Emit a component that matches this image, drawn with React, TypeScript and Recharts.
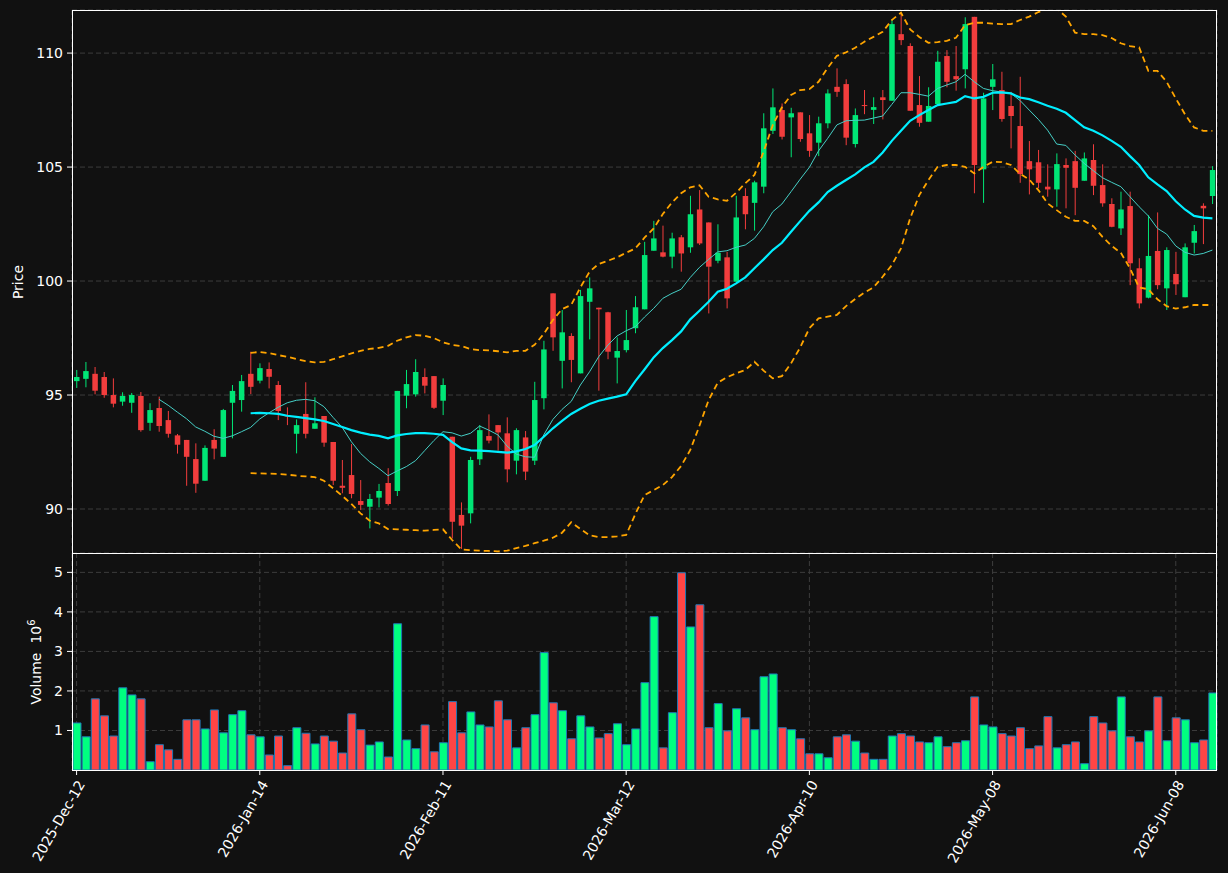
import React from 'react';
import { ComposedChart, Bar, Line, XAxis, YAxis, CartesianGrid, Cell } from 'recharts';

// daily OHLC (prices), volume in millions
const opens = [95.61, 95.71, 95.93, 95.79, 95.00, 94.71, 94.66, 94.96, 93.78, 94.43, 93.90, 93.23, 93.03, 92.19, 91.24, 93.03, 92.29, 94.66, 94.78, 95.93,
  95.63, 96.14, 95.44, 94.10, 93.30, 94.17, 93.52, 94.08, 92.94, 91.02, 91.49, 90.35, 90.10, 90.50, 91.14, 90.79, 94.97, 95.03, 95.79, 95.83,
  94.75, 93.17, 89.74, 89.81, 92.18, 93.20, 93.68, 93.32, 92.12, 93.14, 92.12, 94.86, 99.46, 96.50, 97.59, 95.95, 99.09, 98.83, 98.63, 96.64,
  96.97, 97.93, 98.76, 101.33, 101.26, 101.07, 101.92, 101.48, 103.14, 102.57, 100.89, 101.04, 99.97, 103.73, 103.43, 104.14, 106.59, 107.50, 107.18, 107.40,
  106.48, 106.07, 106.92, 108.52, 108.64, 106.01, 107.72, 107.51, 108.06, 107.91, 110.83, 110.31, 107.72, 106.99, 107.76, 109.87, 108.99, 109.29, 111.59, 104.90,
  108.52, 108.38, 107.68, 106.80, 105.26, 105.21, 104.14, 104.02, 105.09, 105.26, 104.40, 105.31, 104.21, 103.38, 102.31, 103.29, 100.56, 99.27, 101.32, 99.68,
  100.31, 99.29, 101.68, 103.30, 103.73];
const highs = [96.10, 96.45, 96.23, 96.01, 95.73, 95.12, 95.09, 95.13, 94.64, 94.93, 94.30, 93.29, 93.03, 92.88, 92.79, 93.50, 94.39, 95.44, 95.88, 96.90,
  96.39, 96.43, 95.61, 94.46, 93.93, 95.56, 94.90, 94.08, 92.94, 92.15, 92.85, 91.27, 90.66, 91.10, 91.79, 95.18, 96.10, 96.57, 96.17, 95.83,
  95.73, 93.17, 90.29, 92.29, 93.68, 94.15, 93.68, 94.02, 93.54, 93.42, 95.58, 97.38, 99.46, 98.73, 97.71, 99.61, 100.16, 98.83, 98.65, 97.53,
  98.73, 99.34, 101.72, 102.64, 102.43, 102.12, 102.02, 103.74, 103.99, 102.57, 102.49, 101.28, 103.74, 104.07, 104.40, 107.36, 108.45, 107.79, 107.60, 107.40,
  107.28, 107.21, 108.41, 109.33, 108.85, 107.57, 108.38, 108.06, 108.38, 111.48, 111.74, 110.43, 108.99, 108.50, 110.10, 110.13, 110.31, 111.57, 111.59, 108.26,
  109.52, 109.18, 108.30, 108.96, 106.14, 105.75, 105.12, 105.60, 105.38, 105.71, 105.64, 106.00, 105.12, 103.63, 103.92, 103.92, 101.00, 102.89, 103.01, 101.48,
  101.28, 101.65, 102.46, 103.41, 105.04];
const lows = [95.31, 95.34, 95.03, 94.88, 94.46, 94.53, 94.22, 93.39, 93.43, 93.39, 93.13, 92.43, 91.02, 90.71, 91.24, 92.18, 92.29, 93.10, 94.27, 95.04,
  95.51, 95.29, 93.90, 93.68, 92.44, 93.10, 93.52, 92.73, 91.05, 90.69, 90.47, 89.96, 89.15, 90.07, 90.15, 90.57, 94.42, 94.93, 95.07, 94.39,
  94.12, 88.71, 88.25, 89.37, 91.93, 92.88, 92.56, 91.17, 91.52, 91.27, 91.93, 94.37, 96.94, 95.29, 95.56, 95.95, 97.44, 95.19, 96.57, 95.51,
  96.87, 97.71, 98.76, 101.33, 101.04, 100.56, 100.41, 101.24, 101.58, 98.58, 100.78, 98.80, 99.97, 102.27, 102.21, 103.85, 106.45, 106.21, 105.43, 106.11,
  105.45, 105.48, 106.70, 108.08, 105.96, 105.86, 107.32, 106.89, 107.09, 107.91, 110.35, 107.47, 106.77, 106.99, 107.76, 108.50, 108.35, 108.45, 103.85, 103.43,
  107.50, 106.99, 105.82, 104.31, 103.80, 104.07, 103.70, 103.26, 103.19, 102.89, 104.40, 103.77, 103.26, 102.36, 102.02, 99.82, 98.80, 99.24, 99.64, 98.73,
  99.39, 99.29, 101.21, 101.62, 103.38];
const closes = [95.79, 96.05, 95.19, 95.00, 94.62, 94.96, 95.00, 93.46, 94.34, 93.64, 93.30, 92.82, 92.29, 91.11, 92.68, 92.65, 94.34, 95.18, 95.61, 95.36,
  96.18, 95.80, 94.30, 94.06, 93.68, 93.30, 93.76, 92.91, 91.24, 90.93, 90.66, 90.18, 90.44, 90.79, 90.22, 95.18, 95.48, 96.01, 95.41, 94.44,
  95.44, 89.44, 89.27, 92.15, 93.46, 93.00, 93.36, 91.74, 93.46, 91.64, 94.78, 97.00, 97.53, 97.75, 96.54, 99.34, 99.68, 98.76, 96.90, 96.93,
  97.41, 98.85, 101.14, 101.87, 101.07, 101.87, 101.21, 102.93, 101.65, 100.63, 101.24, 99.24, 102.79, 102.93, 104.33, 106.70, 107.62, 106.33, 107.36, 106.23,
  105.71, 106.92, 108.23, 108.30, 106.29, 107.28, 107.69, 107.63, 107.94, 111.27, 110.57, 107.47, 106.94, 107.68, 109.62, 108.74, 108.85, 111.27, 105.09, 108.01,
  108.85, 107.11, 107.24, 104.69, 104.90, 104.31, 104.02, 105.13, 104.97, 104.09, 105.38, 104.18, 103.41, 102.38, 103.14, 100.78, 99.02, 101.10, 99.82, 101.36,
  99.86, 101.48, 102.19, 103.19, 104.87];
const volumes = [1.19, 0.84, 1.80, 1.37, 0.86, 2.08, 1.90, 1.80, 0.21, 0.64, 0.51, 0.27, 1.27, 1.27, 1.04, 1.52, 0.94, 1.40, 1.50, 0.89,
  0.84, 0.38, 0.86, 0.11, 1.07, 0.93, 0.66, 0.86, 0.73, 0.43, 1.42, 1.02, 0.63, 0.71, 0.33, 3.70, 0.76, 0.54, 1.14, 0.46,
  0.69, 1.73, 0.94, 1.47, 1.14, 1.09, 1.75, 1.27, 0.56, 1.07, 1.40, 2.97, 1.70, 1.50, 0.79, 1.37, 1.09, 0.81, 0.92, 1.17,
  0.64, 1.04, 2.21, 3.88, 0.56, 1.45, 4.99, 3.62, 4.18, 1.07, 1.68, 0.99, 1.55, 1.32, 1.02, 2.36, 2.43, 1.07, 1.02, 0.79,
  0.41, 0.41, 0.31, 0.84, 0.89, 0.73, 0.43, 0.27, 0.27, 0.86, 0.92, 0.86, 0.71, 0.69, 0.84, 0.59, 0.69, 0.74, 1.85, 1.14,
  1.09, 0.92, 0.86, 1.07, 0.54, 0.61, 1.35, 0.56, 0.64, 0.71, 0.16, 1.35, 1.19, 0.99, 1.85, 0.84, 0.71, 0.99, 1.85, 0.74,
  1.32, 1.27, 0.69, 0.76, 1.95];

// overlays, each starts at its own bar index
const MA10_START = 9;
const ma10 = [94.81, 94.55, 94.25, 93.96, 93.60, 93.41, 93.19, 93.10, 93.21, 93.39, 93.58, 93.95, 94.22, 94.46, 94.66, 94.77, 94.81, 94.75, 94.49, 94.02,
  93.58, 92.95, 92.44, 92.07, 91.78, 91.46, 91.67, 91.86, 92.12, 92.56, 93.00, 93.39, 93.34, 93.20, 93.32, 93.64, 93.46, 93.25, 92.76, 92.41,
  92.29, 92.27, 93.25, 93.93, 94.37, 94.72, 95.44, 96.02, 96.68, 97.19, 97.59, 97.82, 98.00, 98.42, 98.80, 99.24, 99.46, 99.64, 100.16, 100.60,
  100.95, 101.28, 101.33, 101.48, 101.58, 101.87, 102.38, 103.04, 103.38, 103.92, 104.47, 104.99, 105.71, 106.26, 106.85, 107.03, 107.05, 107.06, 107.15, 107.24,
  107.75, 108.26, 108.26, 108.19, 108.11, 108.45, 108.60, 108.74, 109.07, 108.74, 108.45, 108.35, 108.29, 108.23, 107.92, 107.50, 107.09, 106.62, 106.01, 105.95,
  105.53, 105.16, 104.84, 104.53, 104.33, 104.14, 103.70, 103.26, 102.86, 102.31, 102.06, 101.54, 101.26, 101.14, 101.21, 101.36];
const BAND_START = 19;
const ma20 = [94.20, 94.22, 94.20, 94.17, 94.09, 94.04, 93.99, 93.93, 93.86, 93.73, 93.60, 93.46, 93.35, 93.26, 93.21, 93.10, 93.23, 93.29, 93.33, 93.33,
  93.30, 93.25, 92.93, 92.66, 92.57, 92.56, 92.54, 92.51, 92.47, 92.53, 92.63, 92.81, 93.17, 93.54, 93.87, 94.17, 94.40, 94.61, 94.75, 94.84,
  94.93, 95.03, 95.61, 96.12, 96.65, 97.06, 97.41, 97.79, 98.32, 98.70, 99.09, 99.53, 99.66, 99.90, 100.16, 100.56, 100.95, 101.36, 101.68, 102.16,
  102.63, 103.08, 103.45, 103.90, 104.18, 104.43, 104.68, 104.99, 105.23, 105.64, 106.15, 106.59, 107.03, 107.28, 107.50, 107.72, 107.79, 107.86, 108.11, 108.01,
  108.08, 108.26, 108.28, 108.23, 108.05, 107.98, 107.84, 107.69, 107.56, 107.38, 107.06, 106.74, 106.59, 106.39, 106.15, 105.89, 105.48, 105.09, 104.55, 104.24,
  103.95, 103.50, 103.14, 102.86, 102.78, 102.75];
const bbUpper = [96.85, 96.89, 96.84, 96.75, 96.68, 96.58, 96.49, 96.43, 96.45, 96.57, 96.70, 96.83, 96.94, 97.02, 97.07, 97.16, 97.38, 97.53, 97.63, 97.60,
  97.50, 97.31, 97.20, 97.15, 97.02, 96.97, 96.96, 96.92, 96.87, 96.94, 96.94, 97.20, 97.68, 98.29, 98.77, 98.95, 99.72, 100.41, 100.75, 100.89,
  101.04, 101.24, 101.43, 101.90, 102.31, 102.94, 103.45, 103.85, 104.11, 104.20, 103.70, 103.58, 103.52, 103.87, 104.29, 104.65, 105.67, 106.84, 107.62, 108.16,
  108.38, 108.42, 108.74, 109.35, 109.88, 110.03, 110.23, 110.50, 110.71, 110.93, 111.45, 111.77, 111.04, 110.71, 110.45, 110.48, 110.54, 110.67, 111.23, 111.33,
  111.33, 111.29, 111.27, 111.27, 111.45, 111.60, 111.80, 111.95, 111.95, 111.60, 110.90, 110.83, 110.83, 110.79, 110.66, 110.43, 110.31, 110.25, 109.22, 109.22,
  108.74, 108.01, 107.32, 106.74, 106.59, 106.59];
const bbLower = [91.57, 91.56, 91.55, 91.54, 91.51, 91.46, 91.43, 91.40, 91.24, 90.91, 90.58, 90.22, 89.81, 89.49, 89.37, 89.12, 89.11, 89.09, 89.07, 89.05,
  89.08, 89.11, 88.64, 88.23, 88.19, 88.17, 88.16, 88.14, 88.17, 88.28, 88.38, 88.50, 88.61, 88.74, 88.96, 89.42, 89.12, 88.85, 88.77, 88.77,
  88.80, 88.86, 89.78, 90.61, 90.83, 91.05, 91.40, 91.89, 92.59, 93.65, 94.78, 95.54, 95.78, 95.95, 96.10, 96.46, 96.07, 95.73, 95.83, 96.39,
  97.09, 97.93, 98.36, 98.44, 98.51, 98.90, 99.21, 99.49, 99.72, 100.19, 100.70, 101.43, 102.75, 103.77, 104.43, 105.01, 105.09, 105.09, 105.01, 104.72,
  105.01, 105.23, 105.22, 105.09, 104.70, 104.46, 103.99, 103.41, 103.11, 102.82, 102.64, 102.64, 102.41, 101.94, 101.54, 101.24, 100.56, 99.72, 99.64, 99.20,
  98.90, 98.79, 98.85, 98.95, 98.95, 98.95];

const tickIdx = [0, 20, 40, 60, 80, 100, 120];
const tickLabels = ['2025-Dec-12', '2026-Jan-14', '2026-Feb-11', '2026-Mar-12', '2026-Apr-10', '2026-May-08', '2026-Jun-08'];
const priceTicks = [90, 95, 100, 105, 110];
const volTicks = [1, 2, 3, 4, 5];

const UP = '#00e676';
const DOWN = '#f23d3d';
const VOL_UP = '#00ff80';
const VOL_DOWN = '#ff4545';
const BG = '#111111';
const GRID = '#3d3d3d';
const FONT = 'DejaVu Sans';

const from = (arr: number[], start: number, i: number) => (i >= start && i - start < arr.length ? arr[i - start] : null);

const rows = opens.map((o, i) => ({
  idx: i,
  o,
  h: highs[i],
  l: lows[i],
  c: closes[i],
  range: [lows[i], highs[i]],
  vol: volumes[i],
  up: closes[i] >= o,
  ma10: from(ma10, MA10_START, i),
  ma20: from(ma20, BAND_START, i),
  upper: from(bbUpper, BAND_START, i),
  lower: from(bbLower, BAND_START, i),
}));

function Candle(props: any) {
  const { x, y, width, height, payload } = props;
  if (!payload) return null;
  const top = Math.min(y, y + height);
  const h = Math.abs(height);
  const px = (v: number) => top + ((payload.h - v) / (payload.h - payload.l)) * h;
  const color = payload.up ? UP : DOWN;
  const cx = x + width / 2;
  const bTop = px(Math.max(payload.o, payload.c));
  const bBot = px(Math.min(payload.o, payload.c));
  return (
    <g>
      <line x1={cx} x2={cx} y1={top} y2={top + h} stroke={color} strokeWidth={1} />
      <rect x={x} y={bTop} width={width} height={Math.max(bBot - bTop, 1)} fill={color} />
    </g>
  );
}

function DateTick(props: any) {
  const { x, y, payload } = props;
  const label = tickLabels[tickIdx.indexOf(payload.value)];
  return (
    <g transform={`translate(${x + 9},${y + 7}) rotate(-60)`}>
      <text x={0} y={0} textAnchor="end" fill="#ffffff" fontSize={14} fontFamily={FONT}>
        {label}
      </text>
    </g>
  );
}

const yTickStyle = { fill: '#ffffff', fontSize: 14, fontFamily: FONT };

export default function App() {
  return (
    <div style={{ position: 'absolute', left: 0, top: 0, width: 1228, height: 873, background: BG, overflow: 'hidden' }}>
      <div style={{ position: 'absolute', left: 0, top: 0 }}>
        <ComposedChart width={1228} height={553} data={rows} margin={{ top: 10, right: 11, bottom: 0, left: 0 }}>
          <CartesianGrid stroke={GRID} strokeDasharray="5 3" />
          <XAxis dataKey="idx" type="category" ticks={tickIdx} interval={0} height={0} tick={false} axisLine={false} tickLine={false} />
          <YAxis
            domain={[88.07, 111.89]}
            allowDataOverflow
            ticks={priceTicks}
            width={72}
            tick={yTickStyle}
            tickSize={5}
            tickMargin={4}
            axisLine={false}
            tickLine={{ stroke: '#ffffff' }}
          />
          <Bar dataKey="range" barSize={5.5} shape={<Candle />} isAnimationActive={false} />
          <Line type="linear" dataKey="ma10" stroke="#46cfc6" strokeWidth={1} dot={false} isAnimationActive={false} />
          <Line type="linear" dataKey="ma20" stroke="#00eeff" strokeWidth={2.2} dot={false} isAnimationActive={false} />
          <Line type="linear" dataKey="upper" stroke="#ffa500" strokeWidth={1.8} strokeDasharray="6 4" dot={false} isAnimationActive={false} />
          <Line type="linear" dataKey="lower" stroke="#ffa500" strokeWidth={1.8} strokeDasharray="6 4" dot={false} isAnimationActive={false} />
        </ComposedChart>
      </div>
      <div style={{ position: 'absolute', left: 0, top: 553 }}>
        <ComposedChart width={1228} height={320} data={rows} margin={{ top: 0, right: 11, bottom: 0, left: 0 }}>
          <CartesianGrid stroke={GRID} strokeDasharray="5 3" />
          <XAxis
            dataKey="idx"
            type="category"
            ticks={tickIdx}
            interval={0}
            height={103}
            tick={<DateTick />}
            tickSize={5}
            axisLine={false}
            tickLine={{ stroke: '#ffffff' }}
          />
          <YAxis
            domain={[0, 5.49]}
            allowDataOverflow
            ticks={volTicks}
            width={72}
            tick={yTickStyle}
            tickSize={5}
            tickMargin={4}
            axisLine={false}
            tickLine={{ stroke: '#ffffff' }}
          />
          <Bar dataKey="vol" barSize={8} stroke="#1f77b4" strokeWidth={1} isAnimationActive={false}>
            {rows.map((r) => (
              <Cell key={r.idx} fill={r.up ? VOL_UP : VOL_DOWN} />
            ))}
          </Bar>
        </ComposedChart>
      </div>
      {/* panel frames */}
      <div style={{ position: 'absolute', left: 72, top: 10, width: 1145, height: 544, border: '1px solid #ffffff', boxSizing: 'border-box', pointerEvents: 'none' }} />
      <div style={{ position: 'absolute', left: 72, top: 553, width: 1145, height: 218, border: '1px solid #ffffff', boxSizing: 'border-box', pointerEvents: 'none' }} />
      {/* axis titles */}
      <div style={{ position: 'absolute', left: 18, top: 282, transform: 'translate(-50%, -50%) rotate(-90deg)', color: '#ffffff', fontFamily: FONT, fontSize: 14, whiteSpace: 'nowrap' }}>
        Price
      </div>
      <div style={{ position: 'absolute', left: 35, top: 662, transform: 'translate(-50%, -50%) rotate(-90deg)', color: '#ffffff', fontFamily: FONT, fontSize: 14, whiteSpace: 'nowrap' }}>
        Volume&nbsp;&nbsp;10<sup style={{ fontSize: 10 }}>6</sup>
      </div>
    </div>
  );
}
